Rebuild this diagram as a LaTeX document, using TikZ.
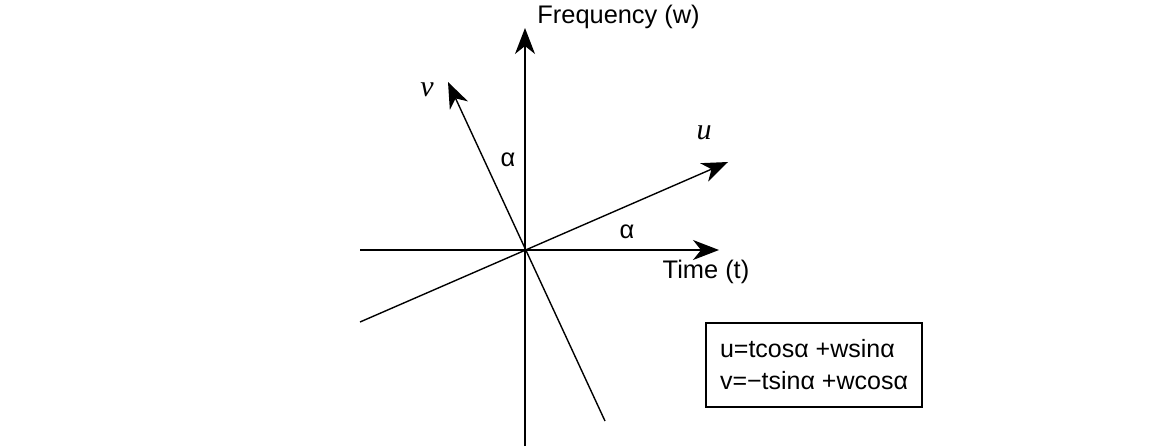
\documentclass[tikz,border=0pt]{standalone}
\usepackage{fontspec}
\setmainfont{Liberation Sans}
\newfontfamily\varfont{Liberation Serif}
\usetikzlibrary{
  arrows.meta,
  positioning,
  calc
}
\tikzset{
  axisline/.style={-{Stealth[length=13pt, width=10pt, inset=4pt]}, line width=0.7pt, black},
  plainline/.style={line width=0.7pt, black},
  lbl/.style={font=\fontsize{12.7}{15}\selectfont, inner sep=0pt},
  varlbl/.style={font=\fontsize{15}{18}\selectfont\varfont\itshape, inner sep=0pt},
  eqbox/.style={
    draw, line width=0.6pt, font=\fontsize{12.5}{16}\selectfont, align=left,
    minimum width=107pt, minimum height=42pt, inner xsep=7pt
  }
}
\begin{document}
\begin{tikzpicture}[x=0.5pt, y=-0.5pt]
  \useasboundingbox (0,0) rectangle (1150,446);
  % axis ends
  \coordinate (orig) at (525,250);
  \coordinate (tS) at (360,250);
  \coordinate (tE) at (719,250);
  \coordinate (wS) at (525,446);
  \coordinate (wE) at (525,28);
  \coordinate (uS) at (360,322);
  \coordinate (uE) at (728,162);
  \coordinate (vS) at (605,421);
  \coordinate (vE) at (448,82);
  % axes
  \draw[axisline] (tS) -- (tE);
  \draw[axisline] (wS) -- (wE);
  \draw[axisline] (uS) -- (uE);
  \draw[axisline] (vS) -- (vE);
  % labels
  \node[lbl, anchor=west] (freq) at (537,17) {Frequency (w)};
  \node[lbl] (time) at (706,272) {Time (t)};
  \node[varlbl] (vlab) at (427,90) {v};
  \node[varlbl] (ulab) at (704,133) {u};
  \node[lbl] (alw) at (508,160) {α};
  \node[lbl] (alt) at (627,232) {α};
  \node[eqbox] (eqs) at (814,365) {u=tcosα +wsinα\\v=−tsinα +wcosα};
\end{tikzpicture}
\end{document}
